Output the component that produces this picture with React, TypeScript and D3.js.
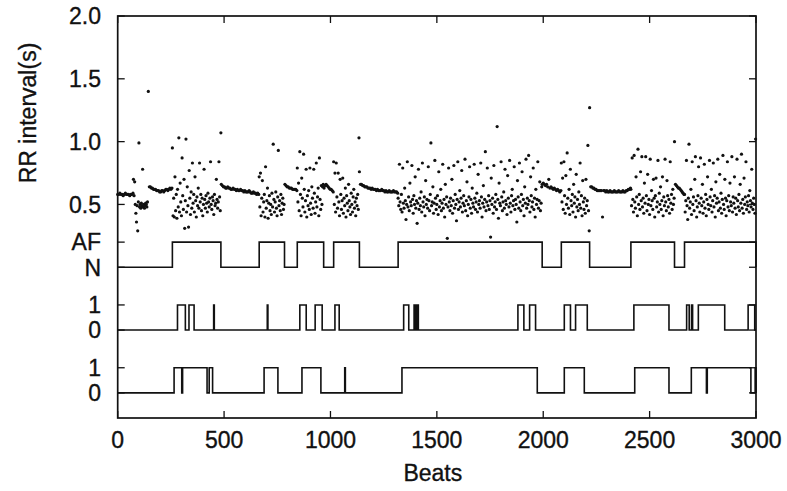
import React from 'react';
import * as d3 from 'd3';

// RR intervals, in hundredths of a second.
// Each segment runs from beat `from` to beat `to`; its values are spread over that range.
const n1a = [58, 58, 59, 58, 58, 57, 58, 59, 58, 58, 58, 57, 58, 58, 59];
const mix1 = [70, 57, 68, 50, 43, 36, 49, 29, 52, 99, 48, 50, 47, 51, 49, 78, 48, 50, 47, 49, 51, 50, 48, 52];
const n1b = [140, 64, 64, 63, 63, 62, 62, 62, 61, 61, 61, 60, 60, 61, 61, 60, 61, 62, 62, 61, 62, 63, 62, 63];
const af1 = [95, 41, 55, 40, 72, 45, 58, 39, 62, 48, 103, 44, 67, 52, 41, 87, 57, 46, 70, 31, 53, 102, 44, 64, 49, 32,
  77, 55, 42, 60, 47, 83, 51, 58, 44, 72, 53, 40, 56, 49, 63, 47, 83, 52, 58, 45, 55, 41, 50, 78, 54, 47, 57, 51, 44,
  59, 52, 48, 55, 84, 50, 46, 56, 53, 42, 58, 49, 51, 70, 54, 47, 52, 84, 56, 45, 107];
const n2 = [66, 65, 64, 64, 63, 63, 64, 63, 63, 62, 62, 63, 62, 62, 61, 62, 61, 61, 62, 61, 61, 60, 61, 60, 60, 60, 61,
  60, 59, 59, 60, 59, 59, 58, 59, 58];
const af2 = [72, 48, 75, 41, 55, 69, 44, 52, 58, 40, 80, 47, 53, 63, 39, 51, 57, 45, 50, 42, 59, 48, 98, 54, 44, 52, 60,
  47, 41, 56, 93, 49, 53, 45, 58, 42, 51, 55, 46, 50];
const n3 = [66, 65, 64, 64, 63, 63, 63, 62, 62, 62, 62, 61];
const af3 = [79, 52, 67, 45, 92, 58, 41, 71, 55, 48, 90, 62, 44, 53, 78, 40, 57, 49, 61, 46, 79, 51, 42, 64, 55, 47, 78,
  59, 43, 52, 83, 48, 56, 63, 41, 87, 54, 46, 65, 50, 64, 66];
const n3b = [63, 65, 66, 65, 64, 63, 62, 62, 61, 60];
const af4 = [84, 50, 75, 44, 83, 56, 47, 75, 52, 41, 70, 58, 46, 53, 71, 43, 55, 49, 63, 40, 57, 51, 45, 66, 53, 48, 42,
  59, 50, 44, 56, 62, 47, 52, 41, 55, 49, 58, 46, 103];
const n4 = [76, 66, 66, 65, 65, 64, 64, 64, 63, 63, 63, 62, 63, 62, 62, 62, 61, 62, 61, 61, 61, 62, 61, 61, 60, 61, 60,
  60, 61, 60, 60, 60, 61, 60, 60, 60, 59];
const af5 = [
  55, 49, 82, 52, 46, 58, 44, 79, 51, 47, 63, 53, 38, 50, 84, 48, 56, 45, 67, 52,
  49, 81, 54, 43, 57, 50, 72, 47, 53, 35, 51, 78, 46, 55, 49, 60, 44, 83, 52, 48,
  56, 41, 69, 50, 54, 47, 80, 53, 45, 58, 99, 49, 52, 64, 43, 51, 85, 55, 46, 50,
  57, 42, 76, 48, 53, 62, 45, 51, 82, 47, 54, 40, 66, 50, 56, 23, 48, 79, 52, 45,
  55, 49, 70, 43, 53, 81, 47, 58, 50, 37, 54, 84, 46, 52, 61, 48, 55, 77, 44, 51,
  57, 49, 86, 45, 53, 68, 41, 50, 56, 80, 47, 54, 43, 63, 51, 48, 82, 55, 46, 52,
  59, 44, 74, 50, 53, 47, 83, 56, 40, 51, 65, 48, 54, 92, 45, 52, 79, 49, 57, 46,
  53, 24, 71, 50, 55, 43, 81, 48, 52, 58, 46, 112, 54, 39, 67, 51, 49, 84, 56, 45,
  52, 60, 47, 78, 53, 50, 42, 73, 55, 48, 85, 51, 44, 57, 62, 49, 53, 80, 46, 54,
  50, 36, 69, 56, 47, 83, 52, 45, 58, 76, 49, 54, 41, 64, 51, 86, 47, 55, 50, 89,
  53, 44, 72, 57, 48, 52, 79, 46, 55, 40, 62, 50, 54, 84, 47, 53, 68, 45, 51, 64,
];
const n5 = [66, 67, 66, 65, 66, 64, 70, 63, 64, 63, 62, 63, 62, 61, 62, 61, 60, 61];
const af6 = [83, 52, 71, 46, 84, 57, 43, 73, 50, 91, 55, 47, 62, 42, 78, 53, 49, 58, 44, 66, 51, 56, 40, 74, 48, 54, 45,
  60, 50, 83, 47, 57, 41, 69, 52, 46, 55, 43, 70, 49, 53, 97, 45, 29];
const n6 = [127, 64, 64, 63, 63, 62, 62, 61, 61, 61, 61, 61, 40, 61, 61, 60, 61, 60, 60, 61, 60, 60, 60, 61, 60, 60, 60,
  61, 60, 60, 60, 61, 60, 60, 61, 61, 62, 62, 63];
const af7 = [62, 49, 87, 54, 44, 89, 52, 47, 72, 56, 41, 94, 50, 58, 46, 76, 53, 88, 48, 55, 43, 67, 51, 88, 57, 45, 74,
  50, 54, 42, 86, 49, 61, 53, 46, 70, 55, 40, 57, 71, 48, 52, 85, 44, 59, 50, 64, 46, 53, 72, 41, 56, 49, 86, 52, 45,
  69, 57, 48, 54, 43, 84, 51, 58, 46, 62, 50, 55];
const n7 = [100, 66, 65, 64, 63, 63, 62, 61, 60, 59, 58];
const af8 = [
  58, 44, 53, 85, 49, 38, 55, 98, 47, 52, 62, 42, 84, 50, 56, 45, 70, 88, 53, 40,
  48, 57, 80, 51, 44, 87, 55, 49, 66, 43, 52, 82, 47, 58, 41, 54, 72, 50, 46, 85,
  56, 49, 62, 44, 53, 83, 48, 57, 40, 68, 51, 55, 86, 45, 52, 74, 47, 59, 43, 54,
  89, 50, 46, 70, 55, 41, 53, 84, 48, 57, 45, 67, 52, 49, 88, 44, 56, 51, 72, 47,
  55, 42, 86, 53, 48, 58, 45, 66, 51, 90, 47, 54, 43, 71, 50, 56, 84, 46, 52, 49,
  57, 44, 61, 53, 48, 78, 51, 46, 55, 50, 43, 102,
];

const rrSegments: [number, number, number[]][] = [
  [0, 72, n1a], [74, 140, mix1], [144, 255, n1b], [257, 485, af1], [487, 663, n2],
  [665, 782, af2], [786, 842, n3], [844, 966, af3], [970, 1013, n3b], [1015, 1134, af4],
  [1136, 1316, n4], [1318, 1993, af5], [1995, 2083, n5], [2085, 2216, af6], [2218, 2410, n6],
  [2412, 2615, af7], [2617, 2662, n7], [2664, 2998, af8],
];

// Detector outputs: beats where each trace is "high"
const afEpisodes = [[257, 485], [665, 784], [844, 968], [1015, 1136], [1318, 1995], [2085, 2218], [2412, 2617], [2664, 3000]];
const method1 = [[281, 318], [335, 359], [451, 454], [703, 706], [856, 886], [928, 961], [1021, 1041], [1344, 1368],
  [1393, 1398], [1402, 1406], [1409, 1413], [1881, 1909], [1936, 1964], [2099, 2128], [2152, 2207], [2426, 2591],
  [2674, 2686], [2697, 2702], [2729, 2853], [2963, 2994]];
const method2 = [[265, 301], [305, 420], [430, 446], [688, 753], [866, 955], [1067, 1070], [1336, 1972], [2099, 2193],
  [2430, 2591], [2696, 2767], [2771, 2976], [2996, 3000]];

const traces = [
  { episodes: afEpisodes, low: 0.0, high: 0.2 },
  { episodes: method1, low: -0.5, high: -0.3 },
  { episodes: method2, low: -1.0, high: -0.8 },
];

const yTicks = [
  { v: 2.0, label: '2.0' }, { v: 1.5, label: '1.5' }, { v: 1.0, label: '1.0' }, { v: 0.5, label: '0.5' },
  { v: 0.2, label: 'AF' }, { v: 0.0, label: 'N' },
  { v: -0.3, label: '1' }, { v: -0.5, label: '0' },
  { v: -0.8, label: '1' }, { v: -1.0, label: '0' },
];
const xTicks = [0, 500, 1000, 1500, 2000, 2500, 3000];

const W = 787, H = 491;
const FONT = '"Liberation Sans", Arial, Helvetica, sans-serif';
const INK = '#111';

export default function App() {
  const x = d3.scaleLinear().domain([0, 3000]).range([117.7, 756]);
  const y = d3.scaleLinear().domain([-1.2, 2.0]).range([418, 16]);
  const [x0, x1] = x.range();
  const [y0, y1] = y.range();

  const dots: [number, number][] = [];
  for (const [from, to, vals] of rrSegments) {
    vals.forEach((v, i) => {
      const b = vals.length > 1 ? from + ((to - from) * i) / (vals.length - 1) : from;
      dots.push([b, v / 100]);
    });
  }

  const line = d3.line<[number, number]>().x(d => x(d[0])).y(d => y(d[1]));
  const tracePath = (t: typeof traces[number]) => {
    const pts: [number, number][] = [[0, t.low]];
    for (const [a, b] of t.episodes) {
      pts.push([a, t.low], [a, t.high], [b, t.high], [b, t.low]);
    }
    pts.push([3000, t.low]);
    return line(pts) ?? '';
  };

  const tick = 7;
  const textProps = { fontFamily: FONT, fontSize: 23, fill: INK, stroke: INK, strokeWidth: 0.35 };

  return (
    <svg width={W} height={H} style={{ position: 'absolute', left: 0, top: 0, background: '#fff' }}>
      {/* RR scatter */}
      <g fill={INK}>
        {dots.map((d, i) => (
          <circle key={i} cx={x(d[0])} cy={y(d[1])} r={1.6} />
        ))}
      </g>

      {/* step traces */}
      {traces.map((t, i) => (
        <path key={i} d={tracePath(t)} fill="none" stroke={INK} strokeWidth={1.6} />
      ))}

      {/* border */}
      <rect x={x0} y={y1} width={x1 - x0} height={y0 - y1} fill="none" stroke={INK} strokeWidth={1.7} />

      {/* y ticks, mirrored on the right */}
      {yTicks.map((t, i) => (
        <g key={i}>
          <line x1={x0} x2={x0 + tick} y1={y(t.v)} y2={y(t.v)} stroke={INK} strokeWidth={1.3} />
          <line x1={x1} x2={x1 - tick} y1={y(t.v)} y2={y(t.v)} stroke={INK} strokeWidth={1.3} />
          <text x={101} y={y(t.v)} dy="0.36em" textAnchor="end" {...textProps}>
            {t.label}
          </text>
        </g>
      ))}

      {/* x ticks, mirrored on top */}
      {xTicks.map(t => (
        <g key={t}>
          <line x1={x(t)} x2={x(t)} y1={y0} y2={y0 - tick} stroke={INK} strokeWidth={1.3} />
          <line x1={x(t)} x2={x(t)} y1={y1} y2={y1 + tick} stroke={INK} strokeWidth={1.3} />
          <text x={x(t)} y={448} textAnchor="middle" {...textProps}>
            {t}
          </text>
        </g>
      ))}

      <text x={(x0 + x1) / 2 - 4} y={481} textAnchor="middle" {...textProps}>
        Beats
      </text>
      <text transform="translate(36,113) rotate(-90)" textAnchor="middle" {...textProps}>
        RR interval(s)
      </text>
    </svg>
  );
}
